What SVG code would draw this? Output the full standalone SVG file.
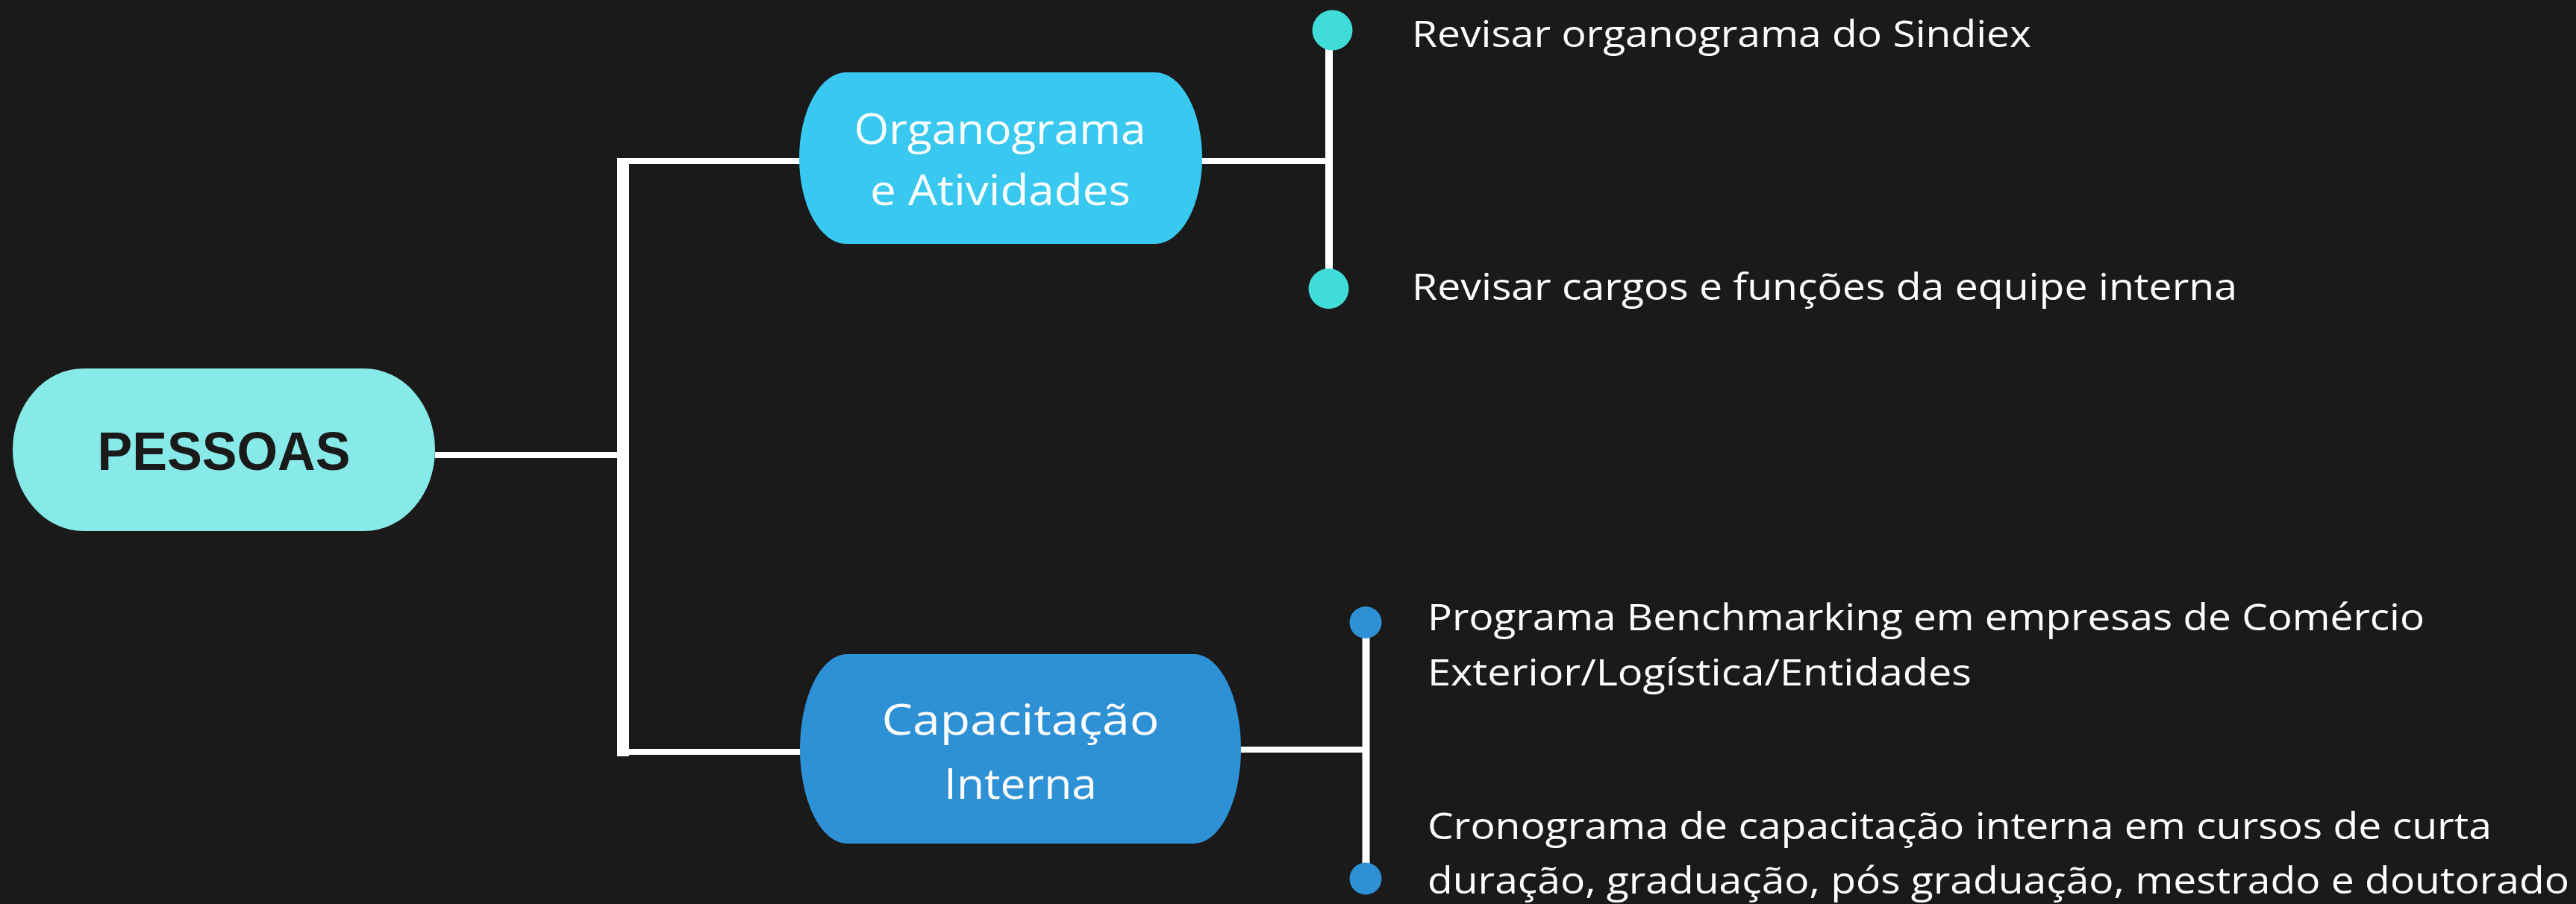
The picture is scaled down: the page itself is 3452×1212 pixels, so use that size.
<svg xmlns="http://www.w3.org/2000/svg" width="3452" height="1212" viewBox="0 0 3452 1212">
<style>
.lbl{font-family:"Open Sans","Liberation Sans",sans-serif;fill:#ffffff;font-weight:400;}
.node{font-size:57px;text-anchor:middle;}
.item{font-size:50px;}
.ln{stroke:#ffffff;stroke-width:8;fill:none;}
</style>
<rect x="0" y="0" width="3452" height="1212" fill="#1a1a1a"/>
<g id="connectors">
<line class="ln" x1="583" y1="610" x2="830" y2="610"/>
<rect x="827" y="212" width="16" height="802" fill="#ffffff"/>
<line class="ln" x1="827" y1="216" x2="1074" y2="216"/>
<line class="ln" x1="827" y1="1008" x2="1075" y2="1008"/>
<line class="ln" x1="1608" y1="216" x2="1781" y2="216"/>
<line x1="1781" y1="40" x2="1781" y2="387" stroke="#ffffff" stroke-width="10"/>
<line class="ln" x1="1660" y1="1005" x2="1831" y2="1005"/>
<line x1="1830.5" y1="834" x2="1830.5" y2="1178" stroke="#ffffff" stroke-width="10"/>
</g>
<g id="node-pessoas">
<rect x="17" y="494" width="566" height="218" rx="95" ry="109" fill="#87eae8"/>
<text x="300" y="630" font-family="'Liberation Sans',Arial,sans-serif" font-weight="bold" font-size="72" fill="#1a1a1a" text-anchor="middle" textLength="339" lengthAdjust="spacingAndGlyphs">PESSOAS</text>
</g>
<g id="node-organograma">
<rect x="1071" y="97" width="540" height="230" rx="63" ry="115" fill="#38c8f0"/>
<text class="lbl node" x="1340" y="193" textLength="391" lengthAdjust="spacingAndGlyphs">Organograma</text>
<text class="lbl node" x="1340.5" y="275" textLength="349" lengthAdjust="spacingAndGlyphs">e Atividades</text>
</g>
<g id="node-capacitacao">
<rect x="1072" y="877" width="591" height="254" rx="63" ry="127" fill="#2e91d6"/>
<text class="lbl node" x="1367.5" y="985" font-size="60" textLength="372" lengthAdjust="spacingAndGlyphs">Capacitação</text>
<text class="lbl node" x="1367.5" y="1071" font-size="60" textLength="205" lengthAdjust="spacingAndGlyphs">Interna</text>
</g>
<g id="item-1">
<circle cx="1785.5" cy="40.5" r="27" fill="#40dcd8"/>
<text class="lbl item" x="1892" y="63" textLength="830" lengthAdjust="spacingAndGlyphs">Revisar organograma do Sindiex</text>
</g>
<g id="item-2">
<circle cx="1780.5" cy="387" r="27" fill="#40dcd8"/>
<text class="lbl item" x="1892" y="402" textLength="1106" lengthAdjust="spacingAndGlyphs">Revisar cargos e funções da equipe interna</text>
</g>
<g id="item-3">
<circle cx="1830" cy="834.5" r="21.5" fill="#2e91d6"/>
<text class="lbl item" x="1913" y="845" textLength="1336" lengthAdjust="spacingAndGlyphs">Programa Benchmarking em empresas de Comércio</text>
<text class="lbl item" x="1913" y="919" textLength="729" lengthAdjust="spacingAndGlyphs">Exterior/Logística/Entidades</text>
</g>
<g id="item-4">
<circle cx="1830" cy="1178" r="21.5" fill="#2e91d6"/>
<text class="lbl item" x="1913" y="1125" textLength="1426" lengthAdjust="spacingAndGlyphs">Cronograma de capacitação interna em cursos de curta</text>
<text class="lbl item" x="1913" y="1198" textLength="1530" lengthAdjust="spacingAndGlyphs">duração, graduação, pós graduação, mestrado e doutorado</text>
</g>
</svg>
